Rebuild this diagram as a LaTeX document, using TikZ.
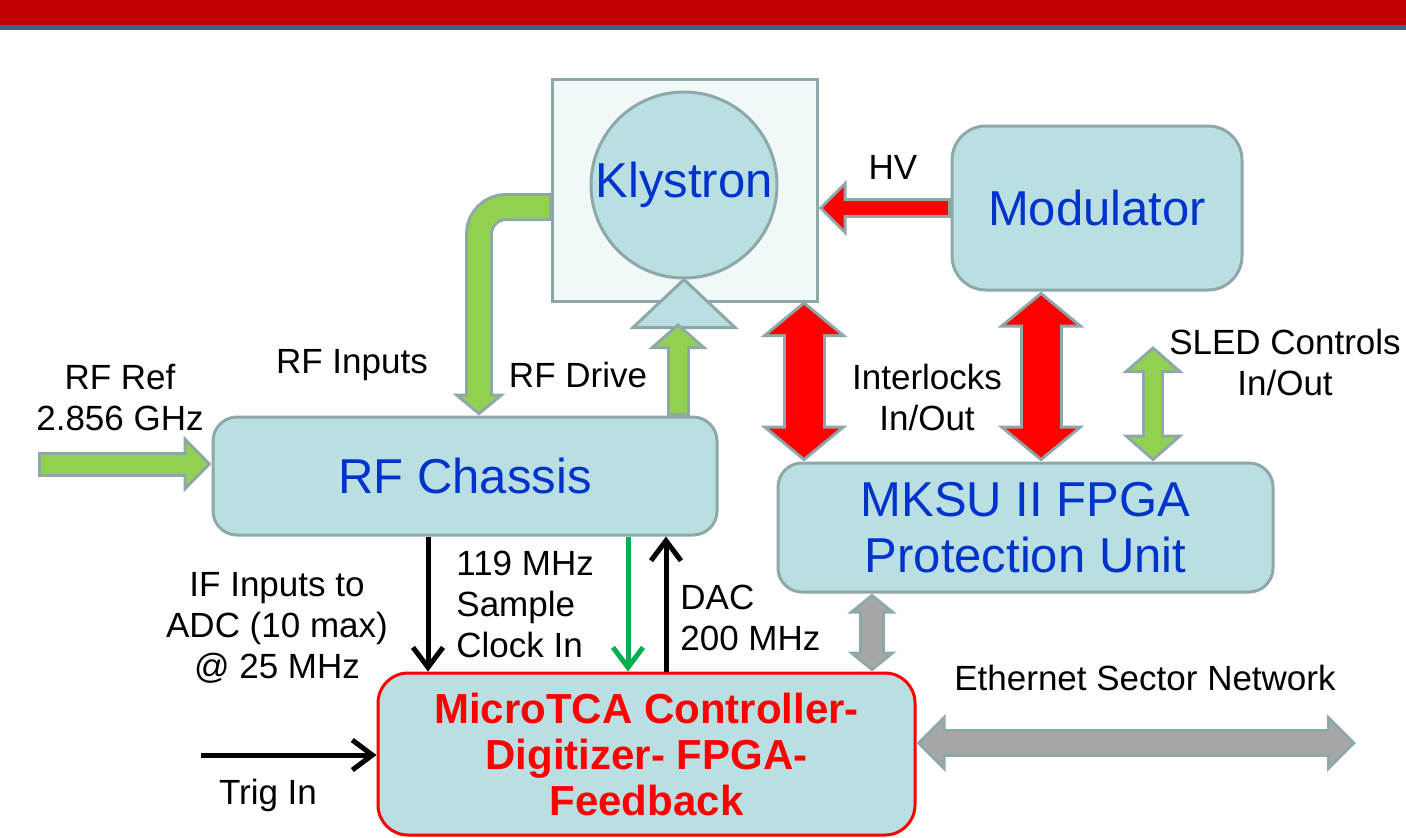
\documentclass[tikz,border=0pt]{standalone}
\usepackage{fontspec}
\setmainfont{Liberation Sans}
\usetikzlibrary{arrows.meta}

\definecolor{barred}{HTML}{C00000}
\definecolor{barblue}{HTML}{3F6391}
\definecolor{edge}{HTML}{8EA8AA}
\definecolor{boxfill}{HTML}{B9DFE2}
\definecolor{kfill}{HTML}{F0F8F8}
\definecolor{txtblue}{HTML}{0033CC}
\definecolor{pipered}{HTML}{FF0000}
\definecolor{pipegreen}{HTML}{92D050}
\definecolor{pipegray}{HTML}{A6A6A6}
\definecolor{clkgreen}{HTML}{00B050}

% block arrow = grey outline + coloured core
\newcommand\pipeset[3]{%
  \pgfmathsetmacro\pH{#2/2}%
  \pgfmathsetmacro\pBack{1.5*sqrt(\pH*\pH+#3*#3)/\pH}%
  \pgfmathsetmacro\pL{#3-1.5-\pBack}%
  \pgfmathsetmacro\pW{2*\pL*\pH/#3}%
  \pgfmathsetmacro\pS{#1-3}%
}
\newcommand\onepipe[5]{%
  \pipeset{#2}{#3}{#4}%
  \draw[draw=edge, line width=#2pt, -{Triangle[width=#3pt,length=#4pt]}] #5;
  \draw[draw=#1, line width=\pS pt, shorten <=1.5pt, shorten >=\pBack pt,
    -{Triangle[width=\pW pt,length=\pL pt]}] #5;
}
\newcommand\twopipe[5]{%
  \pipeset{#2}{#3}{#4}%
  \draw[draw=edge, line width=#2pt,
    {Triangle[width=#3pt,length=#4pt]}-{Triangle[width=#3pt,length=#4pt]}] #5;
  \draw[draw=#1, line width=\pS pt, shorten <=\pBack pt, shorten >=\pBack pt,
    {Triangle[width=\pW pt,length=\pL pt]}-{Triangle[width=\pW pt,length=\pL pt]}] #5;
}

\begin{document}
\begin{tikzpicture}[x=0.5pt, y=-0.5pt]
    \tikzset{
      unitbox/.style={
        draw=edge, fill=boxfill, line width=1.5pt, rounded corners=#1,
        text=txtblue, font=\fontsize{24.5}{28}\selectfont,
        align=center, inner sep=0pt
      },
      lbl/.style={font=\fontsize{17.5}{20.5}\selectfont, align=center, inner sep=0pt},
      sig/.style={line width=2.5pt, -{Straight Barb[length=10pt,width=15pt]}}
    }
    \useasboundingbox (0,0) rectangle (1406,837);

    % Title bar
    \fill[barred] (0,0) rectangle (1406,25);
    \fill[barblue] (0,25) rectangle (1406,30);

    % Klystron
    \node[draw=edge, fill=kfill, line width=1.5pt, minimum width=132.5pt,
      minimum height=111pt] (kbox) at (684.5,190) {};
    \node[circle, draw=edge, fill=boxfill, line width=1.5pt, minimum size=93pt,
      inner sep=0pt, text=txtblue, font=\fontsize{24.5}{28}\selectfont] (kly) at (684,185) {Klystron};
    \draw[draw=edge, fill=boxfill, line width=1.5pt]
      (kly.south) -- ++(51,48) -- ++(-102,0) -- cycle;

    % Units
    \node[unitbox=17pt, minimum width=145pt, minimum height=82pt] (mod) at (1097,208) {Modulator};
    \node[unitbox=12pt, minimum width=247.5pt, minimum height=64.5pt] (mksu) at (1025.5,527.5)
      {MKSU II FPGA\\Protection Unit};
    \node[unitbox=12pt, minimum width=252pt, minimum height=59pt] (rfc) at (465,476) {RF Chassis};
    \node[unitbox=15pt, draw=red, text=red, font=\bfseries\fontsize{21}{23}\selectfont,
      minimum width=268.5pt, minimum height=81pt] (mtca) at (646.5,754)
      {MicroTCA Controller-\\Digitizer- FPGA-\\Feedback};

    % Arrow anchors
    \coordinate (rfref) at (38,464);
    \coordinate (rfout) at (552,207);
    \coordinate (rfin) at (479,415);
    \coordinate (drv) at (678,323);
    \coordinate (ila) at (804,301);
    \coordinate (ilb) at (1041,290);
    \coordinate (sled) at (1153,346);
    \coordinate (lan) at (872,592);
    \coordinate (net) at (1356,743);
    \coordinate (ifin) at (428,535);
    \coordinate (clk) at (628,535);
    \coordinate (dac) at (666,535);
    \coordinate (trig) at (201,755);

    % Block arrows
    \onepipe{pipered}{10}{27}{14}{(mod.west) -- (mod.west -| kbox.east)}
    \twopipe{pipered}{21.5}{42.5}{18}{(ila) -- (ila |- mksu.north)}
    \twopipe{pipered}{21.5}{42.5}{18}{(ilb |- mod.south) -- (ilb |- mksu.north)}
    \twopipe{pipegreen}{11}{30}{13.5}{(sled) -- (sled |- mksu.north)}
    \onepipe{pipegreen}{12.5}{27.5}{14}{(rfref) -- (rfref -| rfc.west)}
    \onepipe{pipegreen}{11.5}{29}{13}{(drv |- rfc.north) -- (drv)}
    \onepipe{pipegreen}{14}{26}{11}{[rounded corners=13.5pt] (rfout) -| (rfin |- rfc.north)}
    \twopipe{pipegray}{13}{24}{10}{(lan |- mksu.south) -- (lan |- mtca.north)}
    \twopipe{pipegray}{14}{28}{14.5}{(net -| mtca.east) -- (net)}

    % Signal lines
    \draw[sig] (ifin |- rfc.south) -- (ifin |- mtca.north);
    \draw[sig, clkgreen] (clk |- rfc.south) -- (clk |- mtca.north);
    \draw[sig] (dac |- mtca.north) -- (dac |- rfc.south);
    \draw[sig] (trig) -- (trig -| mtca.west);

    % Labels
    \node[lbl] (hvl) at (893,167) {HV};
    \node[lbl] (ill) at (927,397) {Interlocks\\In/Out};
    \node[lbl] (sll) at (1285,362) {SLED Controls\\In/Out};
    \node[lbl] (refl) at (120,397.5) {RF Ref\\2.856 GHz};
    \node[lbl] (inl) at (352,365) {RF Inputs};
    \node[lbl] (drvl) at (578,375) {RF Drive};
    \node[lbl] (ifl) at (277,627.5) {IF Inputs to\\ADC (10 max)\\@ 25 MHz};
    \node[lbl, align=left, anchor=west] (clkl) at (456,604) {119 MHz\\Sample\\Clock In};
    \node[lbl, align=left, anchor=west] (dacl) at (680,617.5) {DAC\\200 MHz};
    \node[lbl] (trigl) at (268,795) {Trig In};
    \node[lbl] (netl) at (1145,678) {Ethernet Sector Network};
  \end{tikzpicture}
\end{document}
